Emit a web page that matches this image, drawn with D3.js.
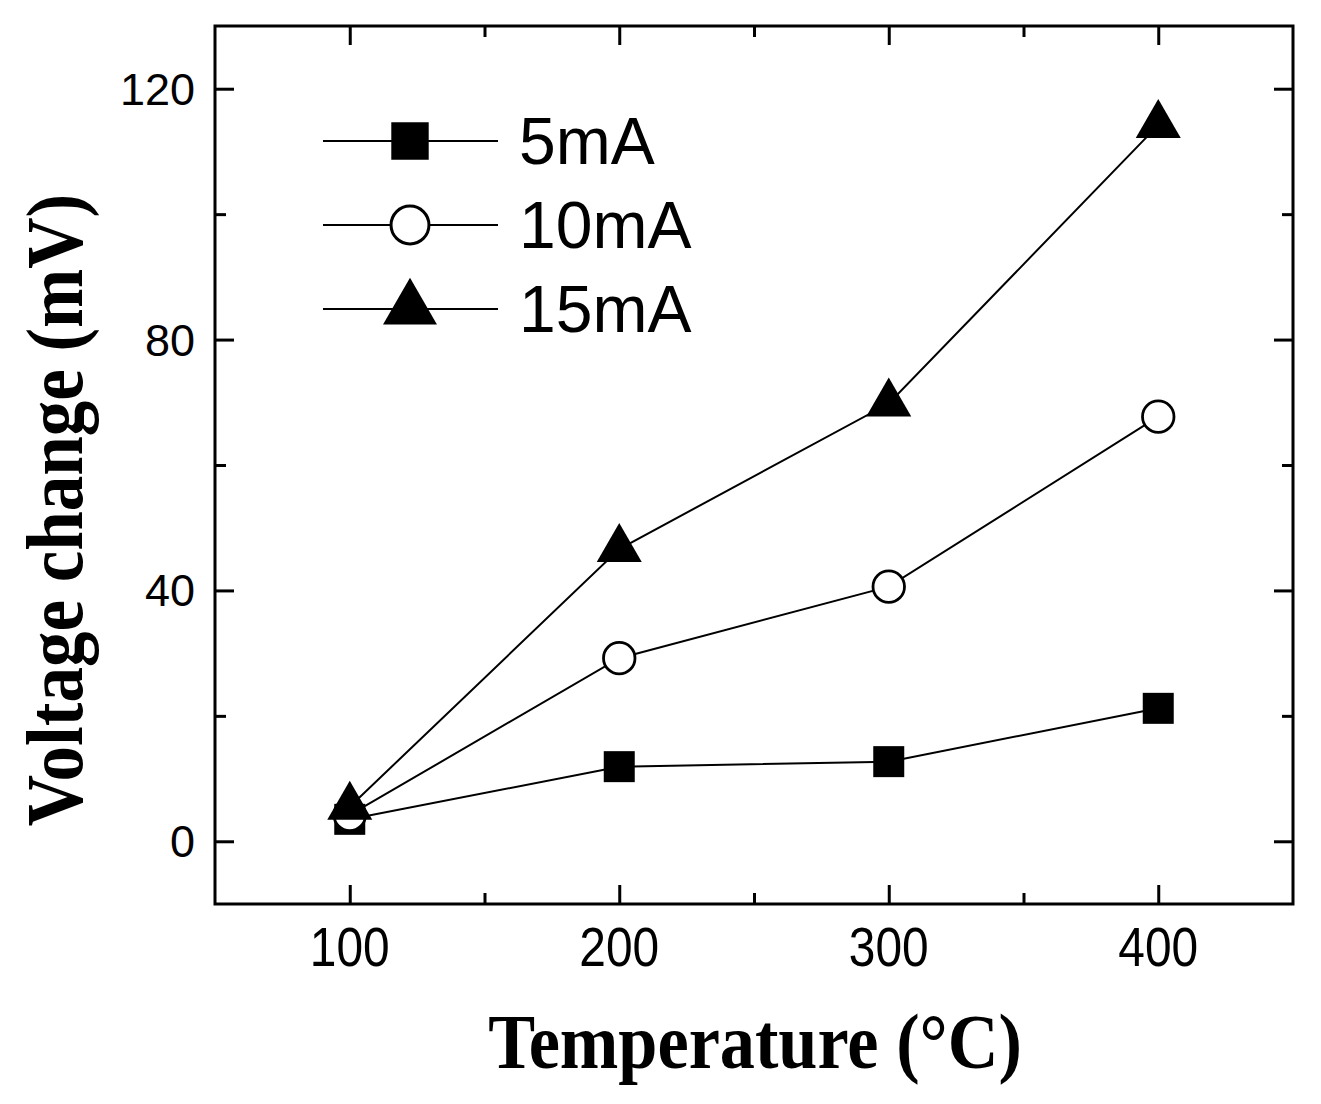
<!DOCTYPE html>
<html><head><meta charset="utf-8">
<script src="https://cdn.jsdelivr.net/npm/d3@7"></script>
<style>body{margin:0;background:#fff}svg{display:block}</style>
</head><body>
<svg id="chart" width="1321" height="1104"></svg>
<script>
const temperatures = [100, 200, 300, 400];
const series5mA = [3.5, 11.9, 12.7, 21.2];
const series10mA = [4.2, 29.2, 40.6, 67.7];
const series15mA = [5.5, 46.6, 69.8, 114.2];
const seriesNames = ["5mA", "10mA", "15mA"];
const xMajorTicks = [100, 200, 300, 400];
const xMinorTicks = [50, 150, 250, 350, 450];
const yMajorTicks = [0, 40, 80, 120];
const yMinorTicks = [-10, 20, 60, 100];

const svg = d3.select("#chart");
const L = 215, R = 1293, T = 26, B = 904;
const x = d3.scaleLinear().domain([50, 450]).range([L, R]);
const y = d3.scaleLinear().domain([-10, 130]).range([B, T]);

function styleAxis(g){ g.select(".domain").remove(); g.selectAll(".tick line").attr("stroke","#000").attr("stroke-width",3); }
const xMinorIn = xMinorTicks.filter(v=>v>50&&v<450);
const yMinorIn = yMinorTicks.filter(v=>v>-10);
svg.append("g").attr("transform",`translate(0,${B})`)
  .call(d3.axisBottom(x).tickValues(xMajorTicks).tickSize(-19).tickFormat("")).call(styleAxis);
svg.append("g").attr("transform",`translate(0,${B})`)
  .call(d3.axisBottom(x).tickValues(xMinorIn).tickSize(-11).tickFormat("")).call(styleAxis);
svg.append("g").attr("transform",`translate(0,${T})`)
  .call(d3.axisTop(x).tickValues(xMajorTicks).tickSize(-19).tickFormat("")).call(styleAxis);
svg.append("g").attr("transform",`translate(0,${T})`)
  .call(d3.axisTop(x).tickValues(xMinorIn).tickSize(-11).tickFormat("")).call(styleAxis);
svg.append("g").attr("transform",`translate(${L},0)`)
  .call(d3.axisLeft(y).tickValues(yMajorTicks).tickSize(-19).tickFormat("")).call(styleAxis);
svg.append("g").attr("transform",`translate(${L},0)`)
  .call(d3.axisLeft(y).tickValues(yMinorIn).tickSize(-11).tickFormat("")).call(styleAxis);
svg.append("g").attr("transform",`translate(${R},0)`)
  .call(d3.axisRight(y).tickValues(yMajorTicks).tickSize(-19).tickFormat("")).call(styleAxis);
svg.append("g").attr("transform",`translate(${R},0)`)
  .call(d3.axisRight(y).tickValues(yMinorIn).tickSize(-11).tickFormat("")).call(styleAxis);

// tick labels
svg.append("g").selectAll("text").data(xMajorTicks).join("text")
  .attr("text-anchor","middle")
  .attr("font-family","'Liberation Sans', Arial, sans-serif")
  .attr("font-size",55)
  .attr("transform", d=>`translate(${x(d)},${B+62}) scale(0.87,1)`)
  .text(d=>d);
svg.append("g").selectAll("text").data(yMajorTicks).join("text")
  .attr("x", 195).attr("y", d=>y(d)+16)
  .attr("text-anchor","end")
  .attr("font-family","'Liberation Sans', Arial, sans-serif")
  .attr("font-size",45)
  .text(d=>d);

// frame
svg.append("rect").attr("x",L).attr("y",T).attr("width",R-L).attr("height",B-T)
  .attr("fill","none").attr("stroke","#000").attr("stroke-width",3);

// axis titles
svg.append("text").attr("transform","translate(755,1068) scale(0.99,1.1)").attr("text-anchor","middle")
  .attr("font-family","'Liberation Serif','Times New Roman',serif").attr("font-weight","bold")
  .attr("font-size",71).text("Temperature (°C)");
svg.append("text").attr("transform","translate(82,510) rotate(-90) scale(1.0,1.12)").attr("text-anchor","middle")
  .attr("font-family","'Liberation Serif','Times New Roman',serif").attr("font-weight","bold")
  .attr("font-size",71).text("Voltage change (mV)");

// series
const allSeries = [series5mA, series10mA, series15mA];
const symTypes = [d3.symbolSquare, d3.symbolCircle, d3.symbolTriangle];
const symSizes = [961, 779, 877];
const symFill = ["#000", "#fff", "#000"];
const symStroke = ["none", "#000", "none"];
const line = d3.line().x(d=>x(d[0])).y(d=>y(d[1]));
const plot = svg.append("g");
allSeries.forEach((vals, i) => {
  const pts = temperatures.map((t,k)=>[t, vals[k]]);
  plot.append("path").attr("d", line(pts)).attr("fill","none").attr("stroke","#000").attr("stroke-width",2);
  plot.append("g").selectAll("path").data(pts).join("path")
    .attr("transform", d=>`translate(${x(d[0])},${y(d[1])})`)
    .attr("d", d3.symbol().type(symTypes[i]).size(symSizes[i]))
    .attr("fill", symFill[i]).attr("stroke", symStroke[i]).attr("stroke-width", 2.8);
});

// legend
const legRows = [141, 225, 309];
const legSizes = [1400, 1130, 1260];
const leg = svg.append("g");
seriesNames.forEach((name, i) => {
  const ly = legRows[i];
  leg.append("line").attr("x1",323).attr("x2",498).attr("y1",ly).attr("y2",ly).attr("stroke","#000").attr("stroke-width",2);
  leg.append("path").attr("transform",`translate(410,${ly})`)
    .attr("d", d3.symbol().type(symTypes[i]).size(legSizes[i]))
    .attr("fill", symFill[i]).attr("stroke", symStroke[i]).attr("stroke-width", 3);
  leg.append("text").attr("x",519).attr("y",ly+23)
    .attr("font-family","'Liberation Sans', Arial, sans-serif").attr("font-size",66)
    .text(name);
});
</script>
</body></html>
